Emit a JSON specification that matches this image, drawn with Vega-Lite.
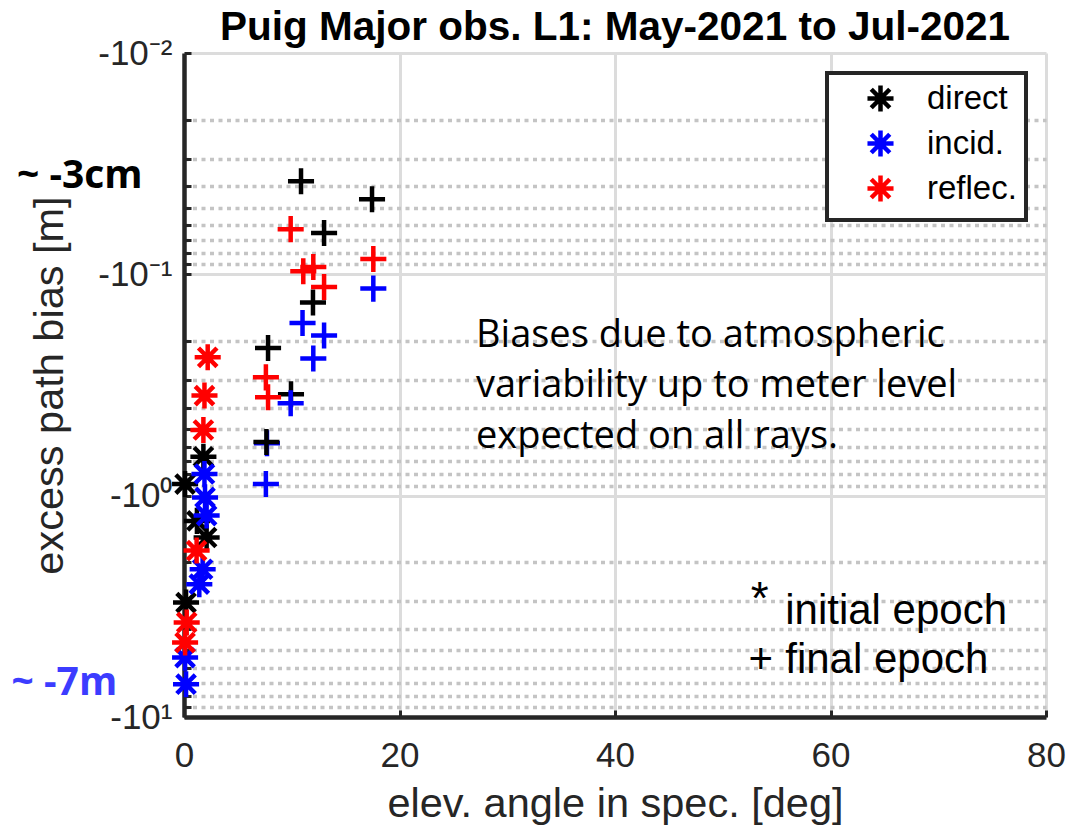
{
  "$schema": "https://vega.github.io/schema/vega-lite/v6.json",
  "width": 862,
  "height": 664,
  "autosize": "none",
  "padding": {"left": 184, "top": 53, "right": 22, "bottom": 118},
  "background": "white",
  "config": {"view": {"stroke": null}, "legend": {"strokeWidth": 4}},
  "title": {"text": "Puig Major obs. L1: May-2021 to Jul-2021", "font": "Liberation Sans", "fontSize": 40.5, "fontWeight": "bold", "color": "#000000", "anchor": "middle", "offset": -12},
  "resolve": {"axis": {"y": "independent"}},
  "datasets": {
    "points": [
      {"ray": "direct", "epoch": "initial", "elev": 1.8, "bias": 0.667},
      {"ray": "direct", "epoch": "initial", "elev": 0.1, "bias": 0.886},
      {"ray": "direct", "epoch": "initial", "elev": 1.2, "bias": 1.3},
      {"ray": "direct", "epoch": "initial", "elev": 2.1, "bias": 1.545},
      {"ray": "direct", "epoch": "initial", "elev": 0.19, "bias": 3.04},
      {"ray": "incid.", "epoch": "initial", "elev": 1.9, "bias": 0.798},
      {"ray": "incid.", "epoch": "initial", "elev": 1.95, "bias": 1.018},
      {"ray": "incid.", "epoch": "initial", "elev": 2.1, "bias": 1.23},
      {"ray": "incid.", "epoch": "initial", "elev": 1.73, "bias": 2.15},
      {"ray": "incid.", "epoch": "initial", "elev": 1.42, "bias": 2.51},
      {"ray": "incid.", "epoch": "initial", "elev": 0.1, "bias": 5.39},
      {"ray": "incid.", "epoch": "initial", "elev": 0.19, "bias": 7.11},
      {"ray": "reflec.", "epoch": "initial", "elev": 2.2, "bias": 0.237},
      {"ray": "reflec.", "epoch": "initial", "elev": 1.9, "bias": 0.353},
      {"ray": "reflec.", "epoch": "initial", "elev": 1.8, "bias": 0.505},
      {"ray": "reflec.", "epoch": "initial", "elev": 1.17, "bias": 1.77},
      {"ray": "reflec.", "epoch": "initial", "elev": 0.25, "bias": 3.74},
      {"ray": "reflec.", "epoch": "initial", "elev": 0.1, "bias": 4.61},
      {"ray": "direct", "epoch": "final", "elev": 10.86, "bias": 0.038},
      {"ray": "direct", "epoch": "final", "elev": 17.45, "bias": 0.0458},
      {"ray": "direct", "epoch": "final", "elev": 13.0, "bias": 0.0651},
      {"ray": "direct", "epoch": "final", "elev": 11.97, "bias": 0.134},
      {"ray": "direct", "epoch": "final", "elev": 7.8, "bias": 0.215},
      {"ray": "direct", "epoch": "final", "elev": 9.93, "bias": 0.348},
      {"ray": "incid.", "epoch": "final", "elev": 17.57, "bias": 0.116},
      {"ray": "incid.", "epoch": "final", "elev": 11.0, "bias": 0.166},
      {"ray": "incid.", "epoch": "final", "elev": 13.0, "bias": 0.189},
      {"ray": "incid.", "epoch": "final", "elev": 12.0, "bias": 0.24},
      {"ray": "incid.", "epoch": "final", "elev": 9.9, "bias": 0.382},
      {"ray": "incid.", "epoch": "final", "elev": 7.7, "bias": 0.58},
      {"ray": "incid.", "epoch": "final", "elev": 7.6, "bias": 0.885},
      {"ray": "direct", "epoch": "final", "elev": 7.65, "bias": 0.572},
      {"ray": "reflec.", "epoch": "final", "elev": 9.9, "bias": 0.0625},
      {"ray": "reflec.", "epoch": "final", "elev": 11.07, "bias": 0.0968},
      {"ray": "reflec.", "epoch": "final", "elev": 12.0, "bias": 0.0927},
      {"ray": "reflec.", "epoch": "final", "elev": 13.0, "bias": 0.114},
      {"ray": "reflec.", "epoch": "final", "elev": 17.57, "bias": 0.0853},
      {"ray": "reflec.", "epoch": "final", "elev": 7.6, "bias": 0.292},
      {"ray": "reflec.", "epoch": "final", "elev": 7.8, "bias": 0.359}
    ]
  },
  "layer": [
    {
      "data": {"name": "points"},
      "mark": {"type": "point", "opacity": 0},
      "encoding": {
        "x": {"field": "elev", "type": "quantitative", "scale": {"domain": [0, 80], "nice": false, "zero": false}},
        "y": {
          "field": "bias", "type": "quantitative",
          "scale": {"type": "log", "domain": [0.01, 10], "reverse": true, "nice": false},
          "axis": {
            "orient": "left", "title": null, "labels": false, "domain": false,
            "values": [0.02, 0.03, 0.04, 0.05, 0.06, 0.07, 0.08, 0.09, 0.2, 0.3, 0.4, 0.5, 0.6, 0.7, 0.8, 0.9, 2, 3, 4, 5, 6, 7, 8, 9],
            "grid": true, "gridColor": "#c4c4c4", "gridDash": [4, 4.5], "gridWidth": 3.5,
            "tickSize": -7, "tickWidth": 3, "tickColor": "#262626"
          }
        }
      }
    },
    {
      "data": {"name": "points"},
      "mark": {"type": "point", "filled": false, "strokeWidth": 4.5, "size": 680, "opacity": 1},
      "encoding": {
        "x": {
          "field": "elev", "type": "quantitative",
          "scale": {"domain": [0, 80], "nice": false, "zero": false},
          "axis": {
            "title": "elev. angle in spec. [deg]",
            "values": [0, 20, 40, 60, 80],
            "grid": true, "gridColor": "#dcdcdc", "gridWidth": 3,
            "tickSize": -7, "tickWidth": 3, "tickColor": "#262626",
            "domainColor": "#262626", "domainWidth": 4.5,
            "labelFlush": false, "labelOverlap": false,
            "labelFont": "Liberation Sans", "labelFontSize": 35, "labelColor": "#262626", "labelPadding": 28,
            "titleFont": "Liberation Sans", "titleFontSize": 41.5, "titleColor": "#262626", "titleFontWeight": "normal", "titlePadding": 10
          }
        },
        "y": {
          "field": "bias", "type": "quantitative",
          "scale": {"type": "log", "domain": [0.01, 10], "reverse": true, "nice": false},
          "axis": {
            "orient": "left",
            "title": "excess path bias [m]",
            "values": [0.01, 0.1, 1, 10],
            "labelExpr": "datum.value === 0.01 ? '-10⁻²' : datum.value === 0.1 ? '-10⁻¹' : datum.value === 1 ? '-10⁰' : '-10¹'",
            "labelOverlap": false, "labelFlush": false,
            "grid": true, "gridColor": "#dcdcdc", "gridWidth": 3,
            "tickSize": -7, "tickWidth": 3, "tickColor": "#262626",
            "domainColor": "#262626", "domainWidth": 4.5,
            "labelFont": "Liberation Sans", "labelFontSize": 35, "labelColor": "#262626", "labelPadding": 19,
            "titleFont": "Liberation Sans", "titleFontSize": 41.5, "titleColor": "#262626", "titleFontWeight": "normal", "titlePadding": 26
          }
        },
        "color": {
          "field": "ray", "type": "nominal",
          "scale": {"domain": ["direct", "incid.", "reflec."], "range": ["#000000", "#0000ff", "#ff0000"]},
          "legend": {
            "title": null, "orient": "top-right", "offset": 20, "padding": 9,
            "strokeColor": "#262626", "fillColor": "#ffffff",
            "symbolType": "M0,-1L0,1M-1,0L1,0M-0.71,-0.71L0.71,0.71M-0.71,0.71L0.71,-0.71",
            "symbolSize": 680, "symbolStrokeWidth": 4.5,
            "symbolOffset": 28, "labelOffset": 30, "rowPadding": 0,
            "labelFont": "Liberation Sans", "labelFontSize": 33, "labelColor": "#000000"
          }
        },
        "shape": {
          "field": "epoch", "type": "nominal",
          "scale": {"domain": ["initial", "final"], "range": ["M0,-1L0,1M-1,0L1,0M-0.71,-0.71L0.71,0.71M-0.71,0.71L0.71,-0.71", "M0,-1L0,1M-1,0L1,0"]},
          "legend": null
        }
      }
    },
    {
      "data": {"values": [{"label": "~ -3cm", "elev": -15.5, "bias": 0.0408}]},
      "mark": {"type": "text", "align": "left", "baseline": "alphabetic", "font": "Open Sans", "fontWeight": "bold", "fontSize": 39, "color": "#000000"},
      "encoding": {
        "x": {"field": "elev", "type": "quantitative"},
        "y": {"field": "bias", "type": "quantitative", "axis": null},
        "text": {"field": "label"}
      }
    },
    {
      "data": {"values": [{"label": "~ -7m", "elev": -16, "bias": 7.95}]},
      "mark": {"type": "text", "align": "left", "baseline": "alphabetic", "font": "Open Sans", "fontWeight": "bold", "fontSize": 39, "color": "#3c3cff"},
      "encoding": {
        "x": {"field": "elev", "type": "quantitative"},
        "y": {"field": "bias", "type": "quantitative", "axis": null},
        "text": {"field": "label"}
      }
    },
    {
      "data": {"values": [
        {"label": "Biases due to atmospheric", "elev": 27.1, "bias": 0.2139},
        {"label": "variability up to meter level", "elev": 27.1, "bias": 0.3601},
        {"label": "expected on all rays.", "elev": 27.1, "bias": 0.6066}
      ]},
      "mark": {"type": "text", "align": "left", "baseline": "alphabetic", "font": "Open Sans", "fontSize": 38, "color": "#000000"},
      "encoding": {
        "x": {"field": "elev", "type": "quantitative"},
        "y": {"field": "bias", "type": "quantitative", "axis": null},
        "text": {"field": "label"}
      }
    },
    {
      "data": {"values": [
        {"label": "initial epoch", "elev": 55.8, "bias": 3.795},
        {"label": "final epoch", "elev": 55.8, "bias": 6.322},
        {"label": "+", "elev": 52.4, "bias": 6.322}
      ]},
      "mark": {"type": "text", "align": "left", "baseline": "alphabetic", "font": "Liberation Sans", "fontSize": 42, "color": "#000000"},
      "encoding": {
        "x": {"field": "elev", "type": "quantitative"},
        "y": {"field": "bias", "type": "quantitative", "axis": null},
        "text": {"field": "label"}
      }
    },
    {
      "data": {"values": [{"label": "*", "elev": 52.6, "bias": 3.42}]},
      "mark": {"type": "text", "align": "left", "baseline": "alphabetic", "font": "Liberation Sans", "fontSize": 46, "color": "#000000"},
      "encoding": {
        "x": {"field": "elev", "type": "quantitative"},
        "y": {"field": "bias", "type": "quantitative", "axis": null},
        "text": {"field": "label"}
      }
    }
  ]
}
